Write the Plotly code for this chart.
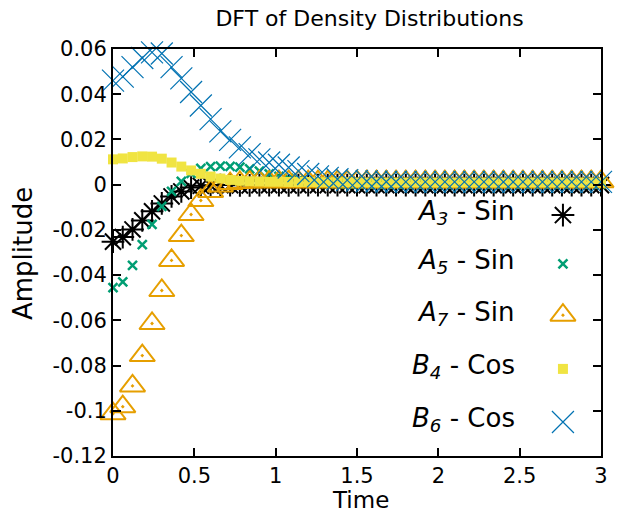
import plotly.graph_objects as go

# ---- data ----
time = [0.00, 0.06, 0.12, 0.18, 0.24, 0.30, 0.36, 0.42, 0.48, 0.54,
        0.60, 0.66, 0.72, 0.78, 0.84, 0.90, 0.96, 1.02, 1.08, 1.14,
        1.20, 1.26, 1.32, 1.38, 1.44, 1.50, 1.56, 1.62, 1.68, 1.74,
        1.80, 1.86, 1.92, 1.98, 2.04, 2.10, 2.16, 2.22, 2.28, 2.34,
        2.40, 2.46, 2.52, 2.58, 2.64, 2.70, 2.76, 2.82, 2.88, 2.94, 3.00]

a3_sin = [-0.0252, -0.0232, -0.0198, -0.0158, -0.0118, -0.0083, -0.0052, -0.0030, -0.0013, -0.0005,
          -0.0003, -0.0002, -0.0002, -0.0003, -0.0003, -0.0002, -0.0002, -0.0002, -0.0003, -0.0002,
          -0.0002, -0.0002, -0.0002, -0.0002, -0.0002, -0.0002, -0.0002, -0.0002, -0.0002, -0.0002,
          -0.0002, -0.0002, -0.0002, -0.0002, -0.0002, -0.0002, -0.0002, -0.0002, -0.0002, -0.0002,
          -0.0002, -0.0002, -0.0002, -0.0002, -0.0002, -0.0002, -0.0002, -0.0002, -0.0002, -0.0002, -0.0002]

a5_sin = [-0.0455, -0.0430, -0.0357, -0.0265, -0.0176, -0.0096, -0.0030, 0.0015, 0.0050, 0.0072,
          0.0080, 0.0082, 0.0081, 0.0078, 0.0070, 0.0060, 0.0048, 0.0037, 0.0028, 0.0020,
          0.0014, 0.0010, 0.0007, 0.0005, 0.0004, 0.0003, 0.0003, 0.0002, 0.0002, 0.0002,
          0.0002, 0.0002, 0.0002, 0.0002, 0.0002, 0.0002, 0.0002, 0.0002, 0.0002, 0.0002,
          0.0002, 0.0002, 0.0002, 0.0002, 0.0002, 0.0002, 0.0002, 0.0002, 0.0002, 0.0002, 0.0002]

a7_sin = [-0.1013, -0.0982, -0.0890, -0.0756, -0.0614, -0.0468, -0.0335, -0.0225, -0.0132, -0.0070,
          -0.0030, -0.0006, 0.0005, 0.0010, 0.0012, 0.0013, 0.0013, 0.0013, 0.0013, 0.0013,
          0.0013, 0.0013, 0.0013, 0.0013, 0.0013, 0.0013, 0.0013, 0.0013, 0.0013, 0.0013,
          0.0013, 0.0013, 0.0013, 0.0013, 0.0013, 0.0013, 0.0013, 0.0013, 0.0013, 0.0013,
          0.0013, 0.0013, 0.0013, 0.0013, 0.0013, 0.0013, 0.0013, 0.0013, 0.0013, 0.0013, 0.0013]

b4_cos = [0.0112, 0.0116, 0.0122, 0.0125, 0.0124, 0.0115, 0.0098, 0.0080, 0.0063, 0.0048,
          0.0036, 0.0027, 0.0021, 0.0017, 0.0015, 0.0014, 0.0013, 0.0013, 0.0012, 0.0012,
          0.0012, 0.0011, 0.0011, 0.0011, 0.0011, 0.0010, 0.0010, 0.0010, 0.0010, 0.0010,
          0.0010, 0.0010, 0.0010, 0.0010, 0.0010, 0.0010, 0.0010, 0.0010, 0.0010, 0.0010,
          0.0010, 0.0010, 0.0010, 0.0010, 0.0010, 0.0010, 0.0010, 0.0010, 0.0010, 0.0010, 0.0010]

b6_cos = [0.0460, 0.0478, 0.0520, 0.0560, 0.0585, 0.0580, 0.0520, 0.0470, 0.0410, 0.0350,
          0.0290, 0.0236, 0.0198, 0.0165, 0.0135, 0.0112, 0.0098, 0.0088, 0.0076, 0.0060,
          0.0047, 0.0037, 0.0030, 0.0024, 0.0020, 0.0017, 0.0015, 0.0014, 0.0013, 0.0013,
          0.0012, 0.0012, 0.0012, 0.0012, 0.0012, 0.0012, 0.0012, 0.0012, 0.0012, 0.0012,
          0.0012, 0.0012, 0.0012, 0.0012, 0.0012, 0.0012, 0.0012, 0.0012, 0.0012, 0.0012, 0.0012]

series_labels = ["<i>A<sub>3</sub></i> - Sin", "<i>A<sub>5</sub></i> - Sin", "<i>A<sub>7</sub></i> - Sin",
                 "<i>B<sub>4</sub></i> - Cos", "<i>B<sub>6</sub></i> - Cos"]

x_tickvals = [0, 0.5, 1, 1.5, 2, 2.5, 3]
x_ticktext = ["0", "0.5", "1", "1.5", "2", "2.5", "3"]
y_tickvals = [-0.12, -0.10, -0.08, -0.06, -0.04, -0.02, 0, 0.02, 0.04, 0.06]
y_ticktext = ["-0.12", "-0.1", "-0.08", "-0.06", "-0.04", "-0.02", "0", "0.02", "0.04", "0.06"]

# ---- styles ----
FONT = "DejaVu Sans, Liberation Sans, sans-serif"
styles = [
    dict(symbol="asterisk-open", size=19, color="black", line=dict(width=2, color="black")),
    dict(symbol="x-thin-open", size=9, color="#009e73", line=dict(width=2.5, color="#009e73")),
    dict(symbol="triangle-up-open-dot", size=22, color="#e69f00", line=dict(width=2, color="#e69f00")),
    dict(symbol="square", size=10, color="#f0e442", line=dict(width=0)),
    dict(symbol="x-thin-open", size=22, color="#0072b2", line=dict(width=1.2, color="#0072b2")),
]
series = [a3_sin, a5_sin, a7_sin, b4_cos, b6_cos]

fig = go.Figure()
for vals, st, lab in zip(series, styles, series_labels):
    fig.add_trace(go.Scatter(x=time, y=vals, mode="markers", marker=st, name=lab,
                             cliponaxis=False, showlegend=False))

# custom legend (text left, symbol right) on an invisible overlay axis
leg_y = [0.598, 0.477, 0.351, 0.219, 0.0885]
leg_sym_y = [0.592, 0.472, 0.346, 0.214, 0.0835]
leg_sym_x = 0.922
leg_txt_x = 0.828
for st, lab, ly, sy in zip(styles, series_labels, leg_y, leg_sym_y):
    fig.add_trace(go.Scatter(x=[leg_sym_x], y=[sy], mode="markers", marker=st,
                             xaxis="x2", yaxis="y2", cliponaxis=False, showlegend=False,
                             hoverinfo="skip"))
    fig.add_annotation(x=leg_txt_x, y=ly, xref="paper", yref="paper", text=lab,
                       showarrow=False, xanchor="right", yanchor="middle",
                       font=dict(family=FONT, size=26, color="black"))

axis_common = dict(showline=True, linecolor="black", linewidth=2, mirror="allticks",
                   ticks="inside", ticklen=8, tickwidth=1.5, tickcolor="black",
                   showgrid=False, zeroline=False,
                   tickfont=dict(family=FONT, size=21, color="black"))

fig.update_layout(
    width=635, height=513,
    margin=dict(l=113, r=34, t=49, b=57),
    paper_bgcolor="white", plot_bgcolor="white",
    title=dict(text="DFT of Density Distributions", x=0.582, xref="container", xanchor="center",
               y=1 - 18 / 513, yref="container", yanchor="middle",
               font=dict(family=FONT, size=22, color="black")),
    xaxis=dict(range=[0, 3], tickvals=x_tickvals, ticktext=x_ticktext, **axis_common),
    yaxis=dict(range=[-0.12, 0.06], tickvals=y_tickvals, ticktext=y_ticktext, **axis_common),
    xaxis2=dict(overlaying="x", range=[0, 1], visible=False),
    yaxis2=dict(overlaying="y", range=[0, 1], visible=False),
    showlegend=False,
)
fig.add_annotation(text="Time", x=0.508, y=-0.108, xref="paper", yref="paper",
                   xanchor="center", yanchor="middle", showarrow=False,
                   font=dict(family=FONT, size=23, color="black"))
fig.add_annotation(text="Amplitude", x=-0.183, y=0.498, xref="paper", yref="paper",
                   xanchor="center", yanchor="middle", showarrow=False, textangle=-90,
                   font=dict(family=FONT, size=26, color="black"))

fig.write_html("out.html")
